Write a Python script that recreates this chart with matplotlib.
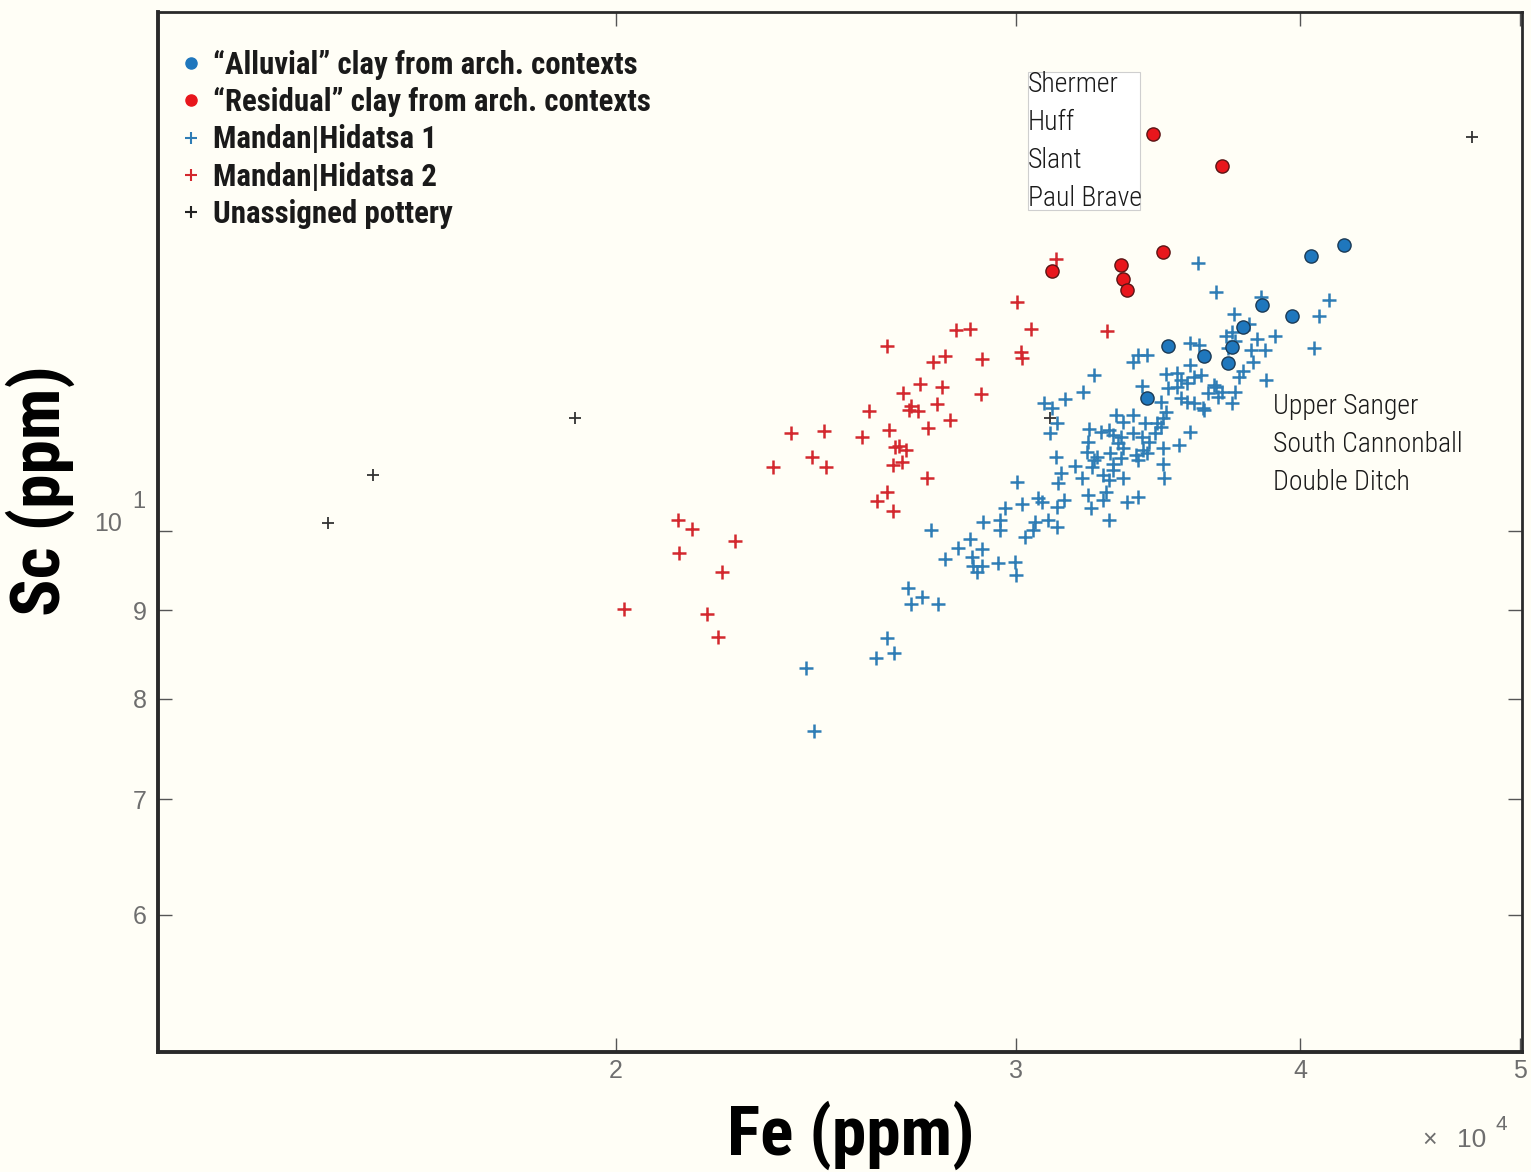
import matplotlib
matplotlib.use('Agg')
import matplotlib.pyplot as plt
from matplotlib.lines import Line2D
from matplotlib.patches import Rectangle
from matplotlib.ticker import FixedLocator, FixedFormatter, NullLocator
from matplotlib import font_manager as fm

# ---------------- data ----------------
# Unassigned pottery
fe_un = [14930, 15630, 19190, 47600, 31060]
sc_un = [10.11, 10.77, 11.62, 16.89, 11.62]

# "Residual" clay from arch. contexts
fe_res = [34450, 36980, 34800, 31120, 33380, 33450, 33580]
sc_res = [16.97, 16.25, 14.50, 14.13, 14.24, 13.98, 13.78]

# "Alluvial" clay from arch. contexts
fe_all = [40470, 41810, 38510, 39700, 37770, 37350, 35010, 36280, 37170, 34240]
sc_all = [14.42, 14.63, 13.51, 13.31, 13.12, 12.77, 12.79, 12.62, 12.50, 11.93]

# Mandan|Hidatsa 2
fe_mh2 = [31250, 30030, 28230, 28640, 30470, 32910, 26330, 27580, 27900, 28990,
          30160, 30190, 27220, 27840, 26760, 28960, 26970, 26920, 27170, 27700,
          28060, 25850, 26360, 27440, 25670, 23880, 24680, 24400, 24750, 23450,
          26540, 26650, 26840, 26730, 26490, 27420, 26330, 26060, 26490, 21300,
          21600, 22570, 21320, 22270, 20160, 21930, 22170]
sc_mh2 = [14.36, 13.56, 13.07, 13.08, 13.08, 13.05, 12.79, 12.52, 12.62, 12.57,
          12.69, 12.59, 12.16, 12.11, 12.02, 12.00, 11.81, 11.74, 11.73, 11.84,
          11.60, 11.73, 11.44, 11.47, 11.33, 11.40, 11.43, 11.04, 10.89, 10.89,
          11.19, 11.20, 11.14, 10.96, 10.92, 10.73, 10.53, 10.41, 10.27, 10.15,
          10.03, 9.87, 9.71, 9.47, 9.01, 8.95, 8.68]

# Mandan|Hidatsa 1
fe_mh1 = [24450, 24250, 26040, 26520, 26330, 26890, 27280, 26970, 27720, 27530,
          27900, 28290, 28640, 28990, 28700, 28730, 28990, 28840, 29460, 29970,
          30000, 29020, 29520, 29520, 29670, 30030, 30190, 30280, 30530, 30590,
          30660, 30810, 31000, 31280, 31280, 31480, 31310, 31410, 31830, 31250,
          32080, 32280, 32350, 32750, 32850, 32950, 33580, 33960, 32750, 32950,
          33450, 34840, 32450, 32410, 32580, 33010, 33350, 33110, 33080, 33860,
          33960, 34800, 32280, 32250, 33280, 33450, 34100, 34310, 34130, 34270,
          34800, 32310, 32680, 32950, 33080, 33350, 33760, 33180, 33790, 33450,
          34200, 34730, 34550, 35800, 35400, 31280, 31060, 30870, 31120, 31540,
          32120, 32450, 34070, 34730, 34910, 34800, 34620, 34940, 35330, 34980,
          35330, 35690, 35910, 36170, 35440, 35690, 35910, 36240, 36430, 36650,
          36800, 36280, 35800, 33760, 33960, 34270, 35800, 36100, 36060, 36720,
          38470, 37430, 37970, 41180, 40800, 40590, 39020, 38310, 38620, 38080,
          38160, 37740, 37590, 38660, 37100, 37350, 37170, 37470, 36720, 36980,
          37470, 37350, 35440]
sc_mh1 = [7.66, 8.33, 8.45, 8.50, 8.67, 9.27, 9.16, 9.07, 9.07, 10.01,
          9.63, 9.78, 9.89, 9.76, 9.66, 9.54, 9.54, 9.47, 9.58, 9.60,
          9.43, 10.12, 10.15, 10.01, 10.31, 10.67, 10.37, 9.92, 10.01, 10.12,
          10.45, 10.39, 10.15, 10.05, 10.32, 10.42, 10.66, 10.80, 10.90, 11.03,
          10.73, 10.49, 10.31, 10.42, 10.53, 10.15, 10.39, 10.47, 10.77, 10.70,
          10.73, 10.73, 10.99, 10.89, 11.03, 11.09, 11.02, 10.94, 10.84, 11.06,
          10.99, 10.94, 11.26, 11.11, 11.24, 11.17, 11.33, 11.26, 11.14, 11.09,
          11.17, 11.45, 11.41, 11.44, 11.36, 11.33, 11.39, 11.67, 11.67, 11.56,
          11.54, 11.48, 11.39, 11.41, 11.21, 11.54, 11.39, 11.85, 11.78, 11.92,
          12.03, 12.30, 12.13, 11.87, 11.72, 11.62, 11.54, 12.32, 12.34, 12.09,
          12.11, 12.17, 12.27, 12.30, 11.93, 11.87, 11.85, 11.78, 12.02, 12.14,
          11.95, 11.75, 12.47, 12.52, 12.64, 12.64, 12.84, 12.81, 14.28, 13.74,
          13.65, 13.35, 13.17, 13.60, 13.31, 12.75, 12.96, 12.92, 12.72, 12.72,
          12.52, 12.37, 12.27, 12.22, 12.96, 13.03, 12.75, 12.87, 12.11, 12.03,
          12.03, 11.85, 12.22]

x_ticks = [20000, 30000, 40000, 50000]
x_ticklabels = ['2', '3', '4', '5']
y_ticks = [6, 7, 8, 9, 10]
y_ticklabels = ['6', '7', '8', '9', '']

legend_labels = ['\u201cAlluvial\u201d clay from arch. contexts',
                 '\u201cResidual\u201d clay from arch. contexts',
                 'Mandan|Hidatsa 1', 'Mandan|Hidatsa 2', 'Unassigned pottery']
sites_residual = ['Shermer', 'Huff', 'Slant', 'Paul Brave']
sites_alluvial = ['Upper Sanger', 'South Cannonball', 'Double Ditch']

# ---------------- fonts ----------------
available = {f.name for f in fm.fontManager.ttflist}
if 'Roboto Condensed' in available:
    NARROW = ['Roboto Condensed', 'DejaVu Sans']
    SCALE = 1.0
else:
    NARROW = ['Liberation Sans', 'DejaVu Sans']
    SCALE = 0.82

# ---------------- style ----------------
BG = '#fffef6'
BLUE_X = '#2f7db5'
RED_X = '#d3282e'
BLUE_O = '#1f77bd'
RED_O = '#e8161c'
TICKFONT = ['Liberation Sans', 'DejaVu Sans']
TICKCOL = '#6e6e6e'

fig = plt.figure(figsize=(15.31, 11.72), dpi=100, facecolor=BG)
ax = fig.add_axes([158 / 1531, 1 - 1052 / 1172, 1364 / 1531, 1040 / 1172])
ax.set_facecolor(BG)
ax.set_xscale('log')
ax.set_yscale('log')
ax.set_xlim(12570, 50100)
ax.set_ylim(5.0, 19.95)

ax.plot(fe_un, sc_un, ls='none', marker='+', ms=9, mew=1.3, color='#333333', zorder=2)
ax.plot(fe_mh1, sc_mh1, ls='none', marker='+', ms=10.5, mew=1.8, color=BLUE_X, zorder=3)
ax.plot(fe_mh2, sc_mh2, ls='none', marker='+', ms=10.5, mew=1.8, color=RED_X, zorder=3)
ax.plot(fe_all, sc_all, ls='none', marker='o', ms=9.5, mfc=BLUE_O, mec='#1b3a55', mew=1.0, zorder=5)
ax.plot(fe_res, sc_res, ls='none', marker='o', ms=9.5, mfc=RED_O, mec='#5a1515', mew=1.0, zorder=5)

# ticks
ax.xaxis.set_major_locator(FixedLocator(x_ticks))
ax.xaxis.set_major_formatter(FixedFormatter(x_ticklabels))
ax.xaxis.set_minor_locator(NullLocator())
ax.yaxis.set_major_locator(FixedLocator(y_ticks))
ax.yaxis.set_major_formatter(FixedFormatter(y_ticklabels))
ax.yaxis.set_minor_locator(NullLocator())
ax.tick_params(which='major', direction='in', length=10, width=1.0, color='#555555',
               labelcolor=TICKCOL, labelsize=18, top=True, right=True)
ax.tick_params(axis='x', pad=5)
ax.tick_params(axis='y', pad=8)
for lab in ax.get_xticklabels() + ax.get_yticklabels():
    lab.set_family(TICKFONT)

for side, lw in [('left', 2.8), ('bottom', 2.8), ('top', 2.0), ('right', 2.0)]:
    ax.spines[side].set_linewidth(lw)
    ax.spines[side].set_color('#2a2a2a')

# 10^1 label
ax.annotate('10', xy=(0, 10), xycoords=('axes fraction', 'data'), xytext=(-26, 5),
            textcoords='offset points', ha='right', va='center', fontsize=18,
            color=TICKCOL, family=TICKFONT)
ax.annotate('1', xy=(0, 10), xycoords=('axes fraction', 'data'), xytext=(-14, 21),
            textcoords='offset points', ha='center', va='center', fontsize=17,
            color=TICKCOL, family=TICKFONT)

# x10^4 multiplier
fig.text(1422 / 1531, 1 - 1147 / 1172, '\u00d7', fontsize=18, color=TICKCOL,
         family=TICKFONT, ha='left', va='baseline')
fig.text(1457 / 1531, 1 - 1147 / 1172, '10', fontsize=19, color=TICKCOL,
         family=TICKFONT, ha='left', va='baseline')
fig.text(1495 / 1531, 1 - 1130 / 1172, '4', fontsize=15, color=TICKCOL,
         family=TICKFONT, ha='left', va='baseline')

# axis labels
fig.text(851 / 1531, 1 - 1155 / 1172, 'Fe (ppm)', fontsize=50 * SCALE, fontweight='bold',
         family=NARROW, ha='center', va='baseline', color='black')
fig.text(40 / 1531, 1 - 491 / 1172, 'Sc (ppm)', fontsize=50 * SCALE, fontweight='bold',
         family=NARROW, ha='center', va='center', rotation=90, color='black')

# legend
handles = [
    Line2D([], [], ls='none', marker='o', ms=8, mfc=BLUE_O, mec=BLUE_O),
    Line2D([], [], ls='none', marker='o', ms=8, mfc=RED_O, mec=RED_O),
    Line2D([], [], ls='none', marker='+', ms=9, mew=1.5, color=BLUE_X),
    Line2D([], [], ls='none', marker='+', ms=9, mew=1.5, color=RED_X),
    Line2D([], [], ls='none', marker='+', ms=9, mew=1.5, color='#222222'),
]
leg = ax.legend(handles, legend_labels, loc='upper left', bbox_to_anchor=(0.0135, 0.964),
                frameon=False, borderpad=0, borderaxespad=0, handlelength=0.95,
                handletextpad=0.25, labelspacing=0.24,
                prop={'family': NARROW, 'weight': 'bold', 'size': 22.2 * SCALE})
for t in leg.get_texts():
    t.set_color('#1a1a1a')

# site annotations
ax.add_patch(Rectangle(((1028 - 158) / 1364, (1052 - 210) / 1040), 112 / 1364, 138 / 1040,
                       transform=ax.transAxes, facecolor='white', edgecolor='#cfcfcf',
                       lw=0.8, zorder=4))
for i, s in enumerate(sites_residual):
    yc = 84 + i * 38
    ax.text((1028 - 158) / 1364, (1052 - yc) / 1040, s, transform=ax.transAxes,
            ha='left', va='center', fontsize=20 * SCALE, family=NARROW,
            fontweight='light', color='#1a1a1a', zorder=6)
for i, s in enumerate(sites_alluvial):
    yc = 407 + i * 38
    ax.text((1273 - 158) / 1364, (1052 - yc) / 1040, s, transform=ax.transAxes,
            ha='left', va='center', fontsize=20 * SCALE, family=NARROW,
            fontweight='light', color='#1a1a1a', zorder=6)

fig.savefig('out.png', dpi=100, facecolor=BG)
